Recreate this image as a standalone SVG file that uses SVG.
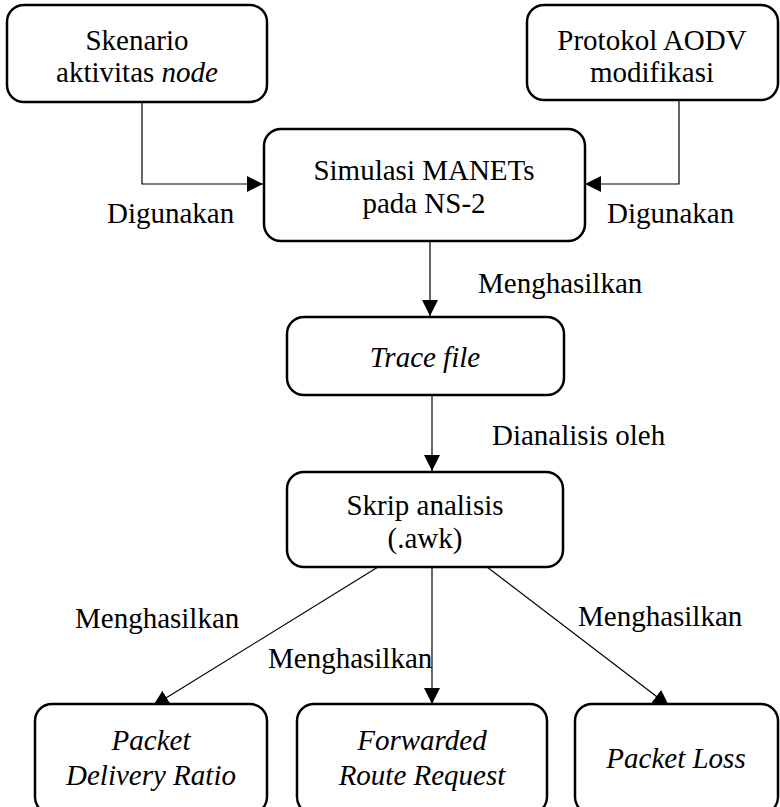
<svg xmlns="http://www.w3.org/2000/svg" width="780" height="807" viewBox="0 0 780 807">
  <style>
    .box { fill: #fff; stroke: #000; stroke-width: 2.5; }
    .edge { fill: none; stroke: #000; stroke-width: 1.2; }
    text { font-family: "Liberation Serif", "Times New Roman", serif; font-size: 29px; fill: #000; }
    .c { text-anchor: middle; }
    .i { font-style: italic; }
  </style>
  <defs>
    <marker id="arrow" markerUnits="userSpaceOnUse" markerWidth="16" markerHeight="16" viewBox="0 0 16 16" refX="16" refY="8" orient="auto">
      <path d="M0,0 L16,8 L0,16 Z" fill="#000"/>
    </marker>
  </defs>
  <rect width="780" height="807" fill="#fff"/>

  <g id="connectors">
    <path class="edge" d="M142,102 V184 H263" marker-end="url(#arrow)"/>
    <path class="edge" d="M679,100 V184 H585" marker-end="url(#arrow)"/>
    <path class="edge" d="M430,241 V316" marker-end="url(#arrow)"/>
    <path class="edge" d="M432,395 V471" marker-end="url(#arrow)"/>
    <path class="edge" d="M378,567 L153,706" marker-end="url(#arrow)"/>
    <path class="edge" d="M432,567 V704" marker-end="url(#arrow)"/>
    <path class="edge" d="M487,567 L669,706" marker-end="url(#arrow)"/>
    <text x="107" y="223">Digunakan</text>
    <text x="607" y="223">Digunakan</text>
    <text x="478" y="293">Menghasilkan</text>
    <text x="492" y="445">Dianalisis oleh</text>
    <text x="75" y="628">Menghasilkan</text>
    <text x="268" y="668">Menghasilkan</text>
    <text x="578" y="626">Menghasilkan</text>
  </g>

  <g id="skenario">
    <rect class="box" x="7" y="5" width="260" height="97" rx="17"/>
    <text class="c" x="137" y="50">Skenario</text>
    <text class="c" x="137" y="82">aktivitas <tspan class="i">node</tspan></text>
  </g>

  <g id="protokol">
    <rect class="box" x="527" y="5" width="251" height="95" rx="17"/>
    <text class="c" x="652" y="50">Protokol AODV</text>
    <text class="c" x="652" y="82">modifikasi</text>
  </g>

  <g id="simulasi">
    <rect class="box" x="264" y="129" width="321" height="112" rx="17"/>
    <text class="c" x="424" y="180">Simulasi MANETs</text>
    <text class="c" x="424" y="213">pada NS-2</text>
  </g>

  <g id="trace">
    <rect class="box" x="287" y="317" width="277" height="78" rx="17"/>
    <text class="c i" x="425" y="367">Trace file</text>
  </g>

  <g id="skrip">
    <rect class="box" x="287" y="472" width="276" height="95" rx="17"/>
    <text class="c" x="425" y="515">Skrip analisis</text>
    <text class="c" x="425" y="548">(.awk)</text>
  </g>

  <g id="pdr">
    <rect class="box" x="35" y="704" width="232" height="110" rx="17"/>
    <text class="c i" x="151" y="750">Packet</text>
    <text class="c i" x="151" y="785">Delivery Ratio</text>
  </g>

  <g id="frr">
    <rect class="box" x="297" y="704" width="250" height="110" rx="17"/>
    <text class="c i" x="422" y="750">Forwarded</text>
    <text class="c i" x="422" y="785">Route Request</text>
  </g>

  <g id="loss">
    <rect class="box" x="575" y="704" width="203" height="110" rx="17"/>
    <text class="c i" x="676" y="768">Packet Loss</text>
  </g>
</svg>
